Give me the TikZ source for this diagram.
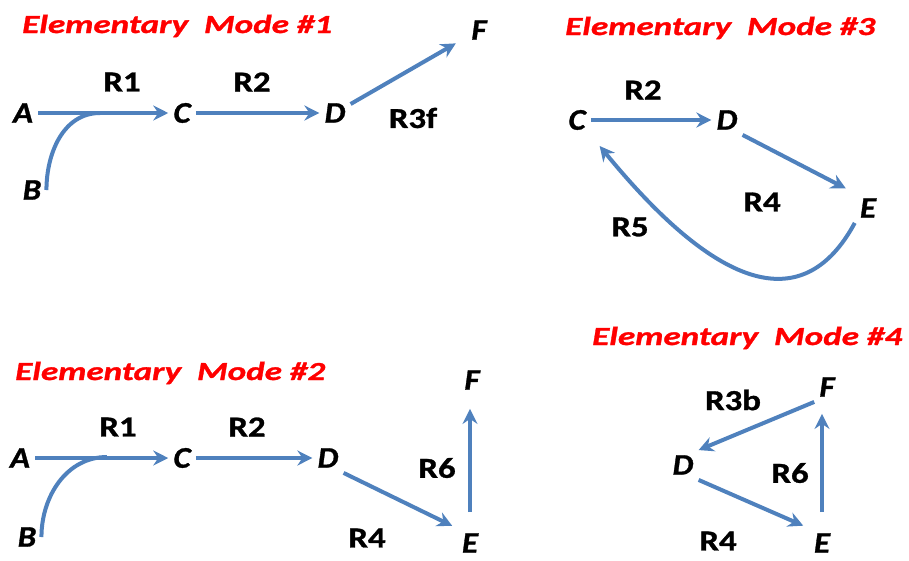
\documentclass[tikz,border=0pt]{standalone}
\usepackage{fontspec}
\setmainfont{Carlito}
\newfontfamily\titlefont[FakeStretch=1.35, FakeBold=1.2]{Carlito}
\newfontfamily\rxnfont[FakeStretch=1.2, FakeBold=1]{Carlito}
\newfontfamily\metfont[FakeStretch=1.1, FakeBold=1]{Carlito}
\usetikzlibrary{arrows.meta, positioning, calc}
\definecolor{modeRed}{HTML}{FF0000}
\definecolor{fluxBlue}{HTML}{4F81BD}
\tikzset{
  modes/.style = {
    >={Stealth[length=15pt, width=15pt, inset=5pt]},
  },
  modetitle/.style = {
    font=\titlefont\bfseries\itshape\fontsize{26}{26}\selectfont, text=modeRed,
    anchor=base west, inner sep=0pt,
  },
  met/.style = {
    font=\metfont\bfseries\itshape\fontsize{30}{30}\selectfont, inner sep=5pt,
  },
  rxn/.style = {
    font=\rxnfont\bfseries\fontsize{29}{29}\selectfont, inner sep=2pt,
  },
  flux/.style = {->, line width=4pt, draw=fluxBlue},
  feed/.style = {line width=4pt, draw=fluxBlue},
}

\begin{document}
\begin{tikzpicture}[modes, x=1pt, y=1pt]
\useasboundingbox (0,0) rectangle (909,-560);

\node[modetitle] (t1) at (22,-33)  {Elementary\ \ Mode \#1};
\node[modetitle] (t3) at (565,-35) {Elementary\ \ Mode \#3};
\node[modetitle] (t2) at (15,-380) {Elementary\ \ Mode \#2};
\node[modetitle] (t4) at (592,-345) {Elementary\ \ Mode \#4};

% mode 1
\node[met] (a1) at (23,-113)  {A};
\node[met] (b1) at (32,-190)  {B};
\node[met] (c1) at (182,-113) {C};
\node[met] (d1) at (335,-113) {D};
\node[met] (f1) at (479,-30)  {F};
\node[rxn] (r11) at (122,-82)  {R1};
\node[rxn] (r21) at (252,-82)  {R2};
\node[rxn] (r3f) at (413,-118) {R3f};
\coordinate (j1) at (100,-113);

\draw[flux] (a1.east) -- (c1.west);
\draw[feed] (b1.east) to[out=90, in=180] (j1);
\draw[flux] (c1.east) -- (d1.west);
\draw[flux, shorten >=12pt] (d1) -- (f1);

% mode 3
\node[met] (c3) at (577,-120) {C};
\node[met] (d3) at (727,-120) {D};
\node[met] (e3) at (868,-208) {E};
\node[rxn] (r23) at (643,-90)  {R2};
\node[rxn] (r43) at (762,-202) {R4};
\node[rxn] (r53) at (630,-227) {R5};

\draw[flux] (c3.east) -- (d3.west);
\draw[flux, shorten >=10pt] (d3.south east) -- (e3.north west);
\draw[flux, shorten >=14pt] (e3.south west)
  .. controls (811,-304) and (734,-310) .. (c3.south east);

% mode 2
\node[met] (a2) at (20,-458)  {A};
\node[met] (b2) at (27,-537)  {B};
\node[met] (c2) at (182,-458) {C};
\node[met] (d2) at (328,-458) {D};
\node[met] (e2) at (470,-543) {E};
\node[met] (f2) at (472,-380) {F};
\node[rxn] (r12) at (118,-427) {R1};
\node[rxn] (r22) at (247,-427) {R2};
\node[rxn] (r42) at (367,-538) {R4};
\node[rxn] (r62) at (437,-468) {R6};
\coordinate (j2) at (107,-457);

\draw[flux] (a2.east) -- (c2.west);
\draw[feed] (b2.east) to[out=90, in=180] (j2);
\draw[flux] (c2.east) -- (d2.west);
\draw[flux, shorten >=5pt] (d2.south east) -- (e2.north west);
\draw[flux, shorten <=16pt, shorten >=14pt] (e2.north) -- (e2.north |- f2.south);

% mode 4
\node[met] (d4) at (683,-465) {D};
\node[met] (e4) at (822,-543) {E};
\node[met] (f4) at (827,-387) {F};
\node[rxn] (r3b) at (733,-400) {R3b};
\node[rxn] (r64) at (790,-473) {R6};
\node[rxn] (r44) at (718,-541) {R4};

\draw[flux] (f4.south west) -- (d4.north east);
\draw[flux, shorten >=6pt] (d4.south east) -- (e4.north west);
\draw[flux, shorten <=16pt, shorten >=12pt] (e4.north) -- (e4.north |- f4.south);

\end{tikzpicture}
\end{document}
